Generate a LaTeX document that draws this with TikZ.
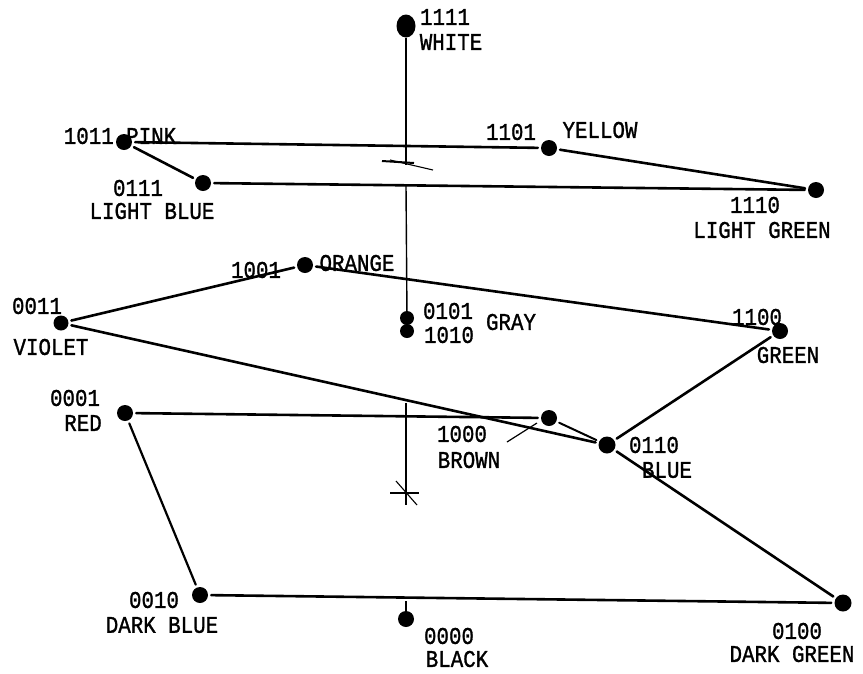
\documentclass[tikz,border=0pt]{standalone}
\usepackage{fontspec}
\setmonofont{Liberation Mono}[BoldFont={Liberation Mono},BoldFeatures={FakeBold=1.3}]
\usepackage{graphicx}
\usetikzlibrary{shapes.geometric}
\newcommand{\lbltxt}[1]{\scalebox{1}[1.15]{#1}}
\begin{document}
\begin{tikzpicture}[x=1pt,y=-1pt,
  dot/.style={circle,fill=black,inner sep=0pt,minimum size=16pt},
  lbl/.style={inner sep=0pt,font=\fontsize{20.8}{22}\selectfont\ttfamily\bfseries},
  edge/.style={line width=2.6pt,line cap=round,shorten <=3pt,shorten >=3pt},
  axisline/.style={line width=1.4pt}]
\useasboundingbox (0,0) rectangle (863,673);
% dots
\node[ellipse,fill=black,inner sep=0pt,minimum width=19pt,minimum height=23pt] (white) at (406,26) {};
\node[dot] (pink) at (124,142) {};
\node[dot] (yellow) at (549,148) {};
\node[dot] (lblue) at (203,183) {};
\node[dot] (lgreen) at (816,190) {};
\node[dot] (orange) at (305,265) {};
\node[dot,minimum size=15pt] (violet) at (61,323) {};
\node[dot,minimum size=14pt] (gray1) at (407,318) {};
\node[dot,minimum size=14pt] (gray2) at (407,331) {};
\node[dot] (green) at (780,331) {};
\node[dot] (red) at (125,413) {};
\node[dot] (brown) at (549,418) {};
\node[dot,minimum size=17pt] (blue) at (607,445) {};
\node[dot] (dblue) at (200,595) {};
\node[dot] (black) at (406,619) {};
\node[dot,minimum size=17pt] (dgreen) at (843,603) {};
% labels
\node[lbl] (t1111) at (445,17) {\lbltxt{1111}};
\node[lbl] (twhite) at (451,42) {\lbltxt{WHITE}};
\node[lbl] (tpink) at (120,136) {\lbltxt{1011 PINK}};
\node[lbl] (t1101) at (511,132) {\lbltxt{1101}};
\node[lbl] (tyellow) at (600,130) {\lbltxt{YELLOW}};
\node[lbl] (t0111) at (138,188) {\lbltxt{0111}};
\node[lbl] (tlblue) at (152,211) {\lbltxt{LIGHT BLUE}};
\node[lbl] (t1110) at (755,205) {\lbltxt{1110}};
\node[lbl] (tlgreen) at (762,230) {\lbltxt{LIGHT GREEN}};
\node[lbl] (t1001) at (256,270) {\lbltxt{1001}};
\node[lbl] (torange) at (357,263) {\lbltxt{ORANGE}};
\node[lbl] (t0011) at (37,306) {\lbltxt{0011}};
\node[lbl] (tviolet) at (51,347) {\lbltxt{VIOLET}};
\node[lbl] (t0101) at (448,311) {\lbltxt{0101}};
\node[lbl] (t1010) at (449,335) {\lbltxt{1010}};
\node[lbl] (tgray) at (511,322) {\lbltxt{GRAY}};
\node[lbl] (t1100) at (757,317) {\lbltxt{1100}};
\node[lbl] (tgreen) at (788,355) {\lbltxt{GREEN}};
\node[lbl] (t0001) at (75,398) {\lbltxt{0001}};
\node[lbl] (tred) at (83,423) {\lbltxt{RED}};
\node[lbl] (t1000) at (462,434) {\lbltxt{1000}};
\node[lbl] (tbrown) at (469,460) {\lbltxt{BROWN}};
\node[lbl] (t0110) at (654,445) {\lbltxt{0110}};
\node[lbl] (tblue) at (667,470) {\lbltxt{BLUE}};
\node[lbl] (t0010) at (154,600) {\lbltxt{0010}};
\node[lbl] (tdblue) at (162,625) {\lbltxt{DARK BLUE}};
\node[lbl] (t0000) at (449,636) {\lbltxt{0000}};
\node[lbl] (tblack) at (457,659) {\lbltxt{BLACK}};
\node[lbl] (t0100) at (797,631) {\lbltxt{0100}};
\node[lbl] (tdgreen) at (792,654) {\lbltxt{DARK GREEN}};
% connectors
\draw[edge] (pink) -- (yellow);
\draw[edge] (yellow) -- (lgreen);
\draw[edge] (lgreen) -- (lblue);
\draw[edge] (pink) -- (lblue);
\draw[edge] (violet) -- (orange);
\draw[edge] (orange) -- (green);
\draw[edge] (violet) -- (blue);
\draw[edge] (blue) -- (dgreen);
\draw[edge] (blue) -- (green);
\draw[edge] (red) -- (brown);
\draw[edge,line width=2pt] (brown) -- (blue);
\draw[edge,line width=2.2pt] (red) -- (dblue);
\draw[edge] (dblue) -- (dgreen);
% axis
\coordinate (ax1) at (406,165);
\coordinate (ax2) at (406,185);
\coordinate (ax3) at (406,403);
\coordinate (ax4) at (406,505);
\coordinate (stem) at (406,601);
\coordinate (lead1) at (507,442);
\coordinate (lead2) at (537,423);
\draw[axisline,line width=2pt] (white) -- (ax1);
\draw[axisline] (ax2) -- (gray1);
\draw[axisline] (ax3) -- (ax4);
\draw[axisline] (stem) -- (black);
\draw[line width=1.2pt] (lead1) -- (lead2);
% cross marks
\draw[line width=2pt] (382,161) -- (414,163);
\draw[line width=1.1pt] (390,160) -- (433,170);
\draw[line width=1.1pt] (390,493) -- (419,493);
\draw[line width=1.1pt] (396,481) -- (417,505);
\end{tikzpicture}
\end{document}
